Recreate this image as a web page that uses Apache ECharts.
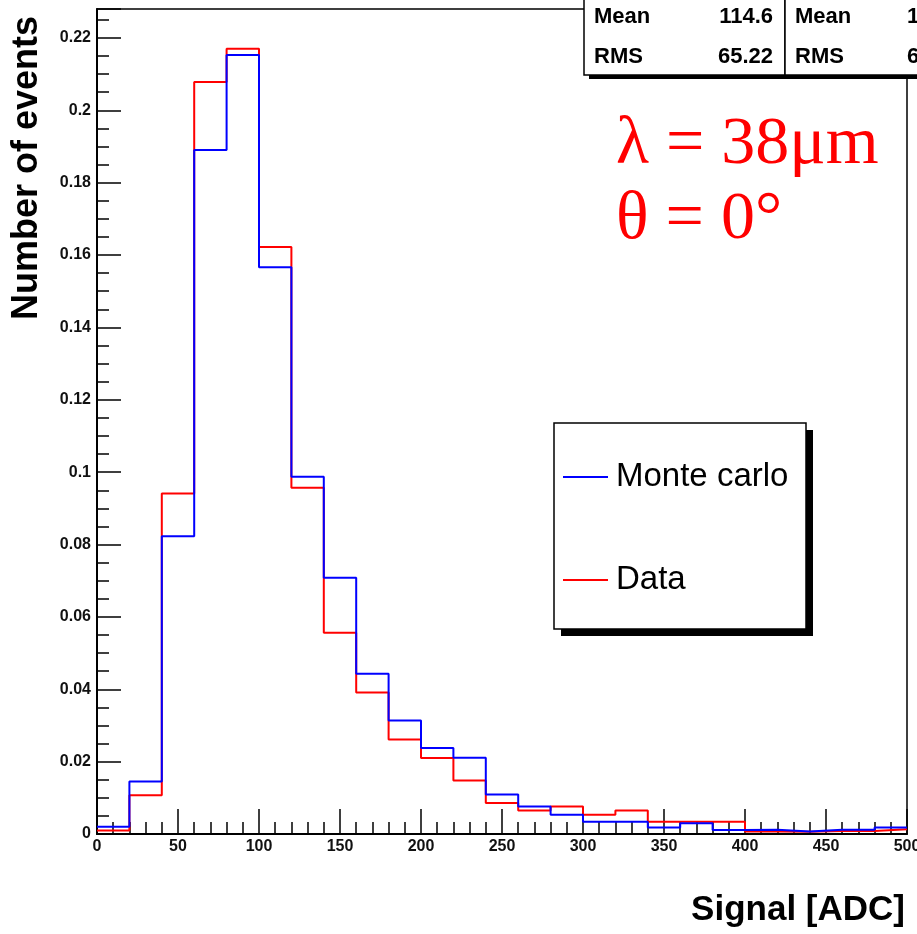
<!DOCTYPE html>
<html>
<head>
<meta charset="utf-8">
<title>Signal [ADC]</title>
<script src="https://cdn.jsdelivr.net/npm/echarts@6/dist/echarts.min.js"></script>
<style>
  html, body {
    margin: 0;
    padding: 0;
    background: #fff;
  }
  #chart {
    width: 917px;
    height: 934px;
  }
</style>
</head>
<body>
<div id="chart"></div>
<script>
// histogram bins, 20 ADC wide
const binWidth = 20
const binLow = [0, 20, 40, 60, 80, 100, 120, 140, 160, 180, 200, 220, 240, 260, 280, 300, 320, 340, 360, 380, 400, 420, 440, 460, 480]

const monteCarlo = [0.002, 0.0145, 0.0823, 0.189, 0.2153, 0.1566, 0.0987, 0.0708, 0.0443, 0.0314, 0.0238, 0.0211, 0.0109, 0.0076, 0.0053, 0.0034, 0.0034, 0.0018, 0.003, 0.0011, 0.0012, 0.0007, 0.0012, 0.0012, 0.0018]
const data = [0.001, 0.0107, 0.0941, 0.2078, 0.217, 0.1622, 0.0957, 0.0556, 0.0391, 0.0261, 0.021, 0.0148, 0.0086, 0.0065, 0.0076, 0.0053, 0.0065, 0.0034, 0.0034, 0.0034, 0.0007, 0.0006, 0.0008, 0.0008, 0.0013]

const statsLabels = ['Mean', 'RMS']
const statsMc = ['114.6', '65.22']
const statsData = ['1', '6']

const FONT = 'Liberation Sans, Arial, Helvetica, sans-serif'
const SERIF = 'Liberation Serif, Times New Roman, serif'

function toSteps(values) {
  let pts = values.map((v, i) => [binLow[i], v])
  let last = binLow.length - 1
  pts.push([binLow[last] + binWidth, values[last]])
  return pts
}

function statsBox(x, w, values, valueAlign, valueX) {
  let els = [
    { type: 'rect', z: 10, shape: { x: x + 5, y: -20, width: w, height: 99 }, style: { fill: '#000' } },
    { type: 'rect', z: 10, shape: { x: x, y: -20, width: w, height: 95 }, style: { fill: '#fff', stroke: '#000', lineWidth: 1.5 } },
  ]
  statsLabels.forEach((label, i) => {
    let y = i == 0 ? 17 : 57
    els.push({ type: 'text', z: 11, x: x + 10, y: y, style: { text: label, font: 'bold 22px ' + FONT, fill: '#000', align: 'left', verticalAlign: 'middle' } })
    els.push({ type: 'text', z: 11, x: valueX, y: y, style: { text: values[i], font: 'bold 22px ' + FONT, fill: '#000', align: valueAlign, verticalAlign: 'middle' } })
  })
  return els
}

let chart = echarts.init(document.getElementById('chart'), null, { renderer: 'canvas' })

let option = {
  animation: false,
  backgroundColor: '#fff',
  grid: {
    left: 97,
    right: 10,
    top: 9,
    bottom: 100,
    outerBoundsMode: 'none',
    containLabel: false,
    show: true,
    borderColor: '#000',
    borderWidth: 1.5,
    backgroundColor: 'transparent',
  },
  xAxis: {
    type: 'value',
    min: 0,
    max: 500,
    interval: 50,
    axisLine: { show: true, onZero: false, lineStyle: { color: '#000', width: 2 } },
    axisTick: { show: true, inside: true, length: 25, lineStyle: { color: '#000', width: 1.5 } },
    minorTick: { show: true, splitNumber: 5, length: 12, lineStyle: { color: '#000', width: 1.5 } },
    splitLine: { show: false },
    axisLabel: { margin: 5, color: '#111', fontSize: 16, fontWeight: 'bold', fontFamily: FONT },
  },
  yAxis: {
    type: 'value',
    min: 0,
    max: 0.228,
    interval: 0.02,
    axisLine: { show: true, onZero: false, lineStyle: { color: '#000', width: 2 } },
    axisTick: { show: true, inside: true, length: 24, lineStyle: { color: '#000', width: 1.5 } },
    minorTick: { show: true, splitNumber: 4, length: 12, lineStyle: { color: '#000', width: 1.5 } },
    splitLine: { show: false },
    axisLabel: {
      margin: 6,
      showMaxLabel: false,
      color: '#111',
      fontSize: 16,
      fontWeight: 'bold',
      fontFamily: FONT,
      formatter: v => String(+v.toFixed(3)),
    },
  },
  legend: {
    data: ['Monte carlo', 'Data'],
    orient: 'vertical',
    left: 563,
    top: 457,
    padding: 0,
    itemGap: 63,
    itemWidth: 45,
    itemHeight: 2,
    icon: 'rect',
    itemStyle: { borderWidth: 0 },
    z: 20,
    textStyle: { fontSize: 33, lineHeight: 40, color: '#000', fontFamily: FONT, padding: [0, 0, 0, 3] },
  },
  series: [
    {
      name: 'Data',
      type: 'line',
      step: 'end',
      symbol: 'none',
      data: toSteps(data),
      color: '#ff0000',
      lineStyle: { color: '#ff0000', width: 2 },
    },
    {
      name: 'Monte carlo',
      type: 'line',
      step: 'end',
      symbol: 'none',
      data: toSteps(monteCarlo),
      color: '#0000ff',
      lineStyle: { color: '#0000ff', width: 2 },
    },
  ],
  graphic: [
    {
      type: 'text',
      x: 27,
      y: 168,
      rotation: Math.PI / 2,
      style: { text: 'Number of events', font: 'bold 36px ' + FONT, fill: '#000', align: 'center', verticalAlign: 'middle' },
    },
    {
      type: 'text',
      x: 905,
      y: 910,
      style: { text: 'Signal [ADC]', font: 'bold 35px ' + FONT, fill: '#000', align: 'right', verticalAlign: 'middle' },
    },
    {
      type: 'text',
      x: 616,
      y: 145,
      style: { text: 'λ = 38μm', font: '68px ' + SERIF, fill: '#ff0000', align: 'left', verticalAlign: 'middle' },
    },
    {
      type: 'text',
      x: 616,
      y: 220,
      style: { text: 'θ = 0°', font: '68px ' + SERIF, fill: '#ff0000', align: 'left', verticalAlign: 'middle' },
    },
    // legend frame with its hard shadow
    { type: 'rect', z: 10, shape: { x: 561, y: 430, width: 252, height: 206 }, style: { fill: '#000' } },
    { type: 'rect', z: 10, shape: { x: 554, y: 423, width: 252, height: 206 }, style: { fill: '#fff', stroke: '#000', lineWidth: 1.5 } },
  ]
    .concat(statsBox(584, 201, statsMc, 'right', 773))
    .concat(statsBox(785, 200, statsData, 'left', 907)),
}

chart.setOption(option)
</script>
</body>
</html>
